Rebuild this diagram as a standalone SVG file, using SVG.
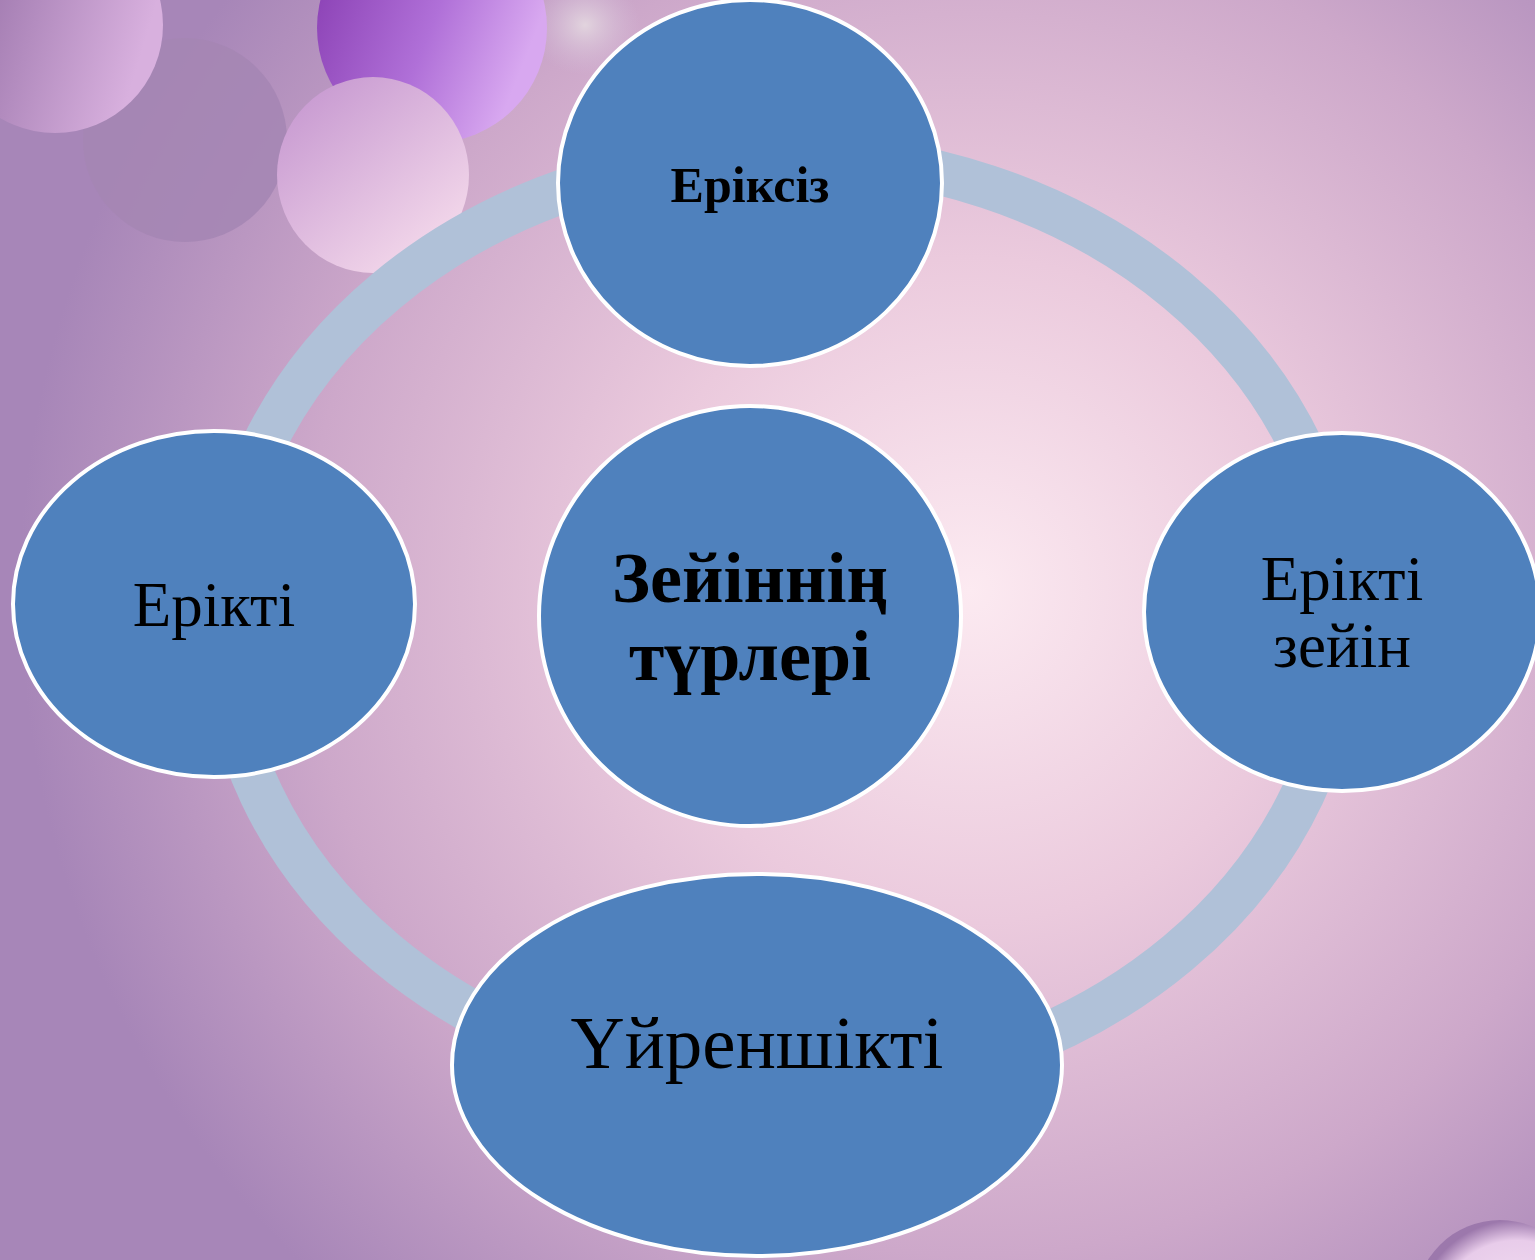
<svg xmlns="http://www.w3.org/2000/svg" width="1535" height="1260" viewBox="0 0 1535 1260">
<defs>
<radialGradient id="bg" gradientUnits="userSpaceOnUse" cx="970" cy="590" r="950">
<stop offset="0" stop-color="#FCEAF1"/>
<stop offset="0.35" stop-color="#EBCADD"/>
<stop offset="0.7" stop-color="#CDA8CA"/>
<stop offset="1" stop-color="#A786B8"/>
</radialGradient>
<linearGradient id="b1" x1="0" y1="0" x2="1" y2="0.3">
<stop offset="0" stop-color="#8E68A0"/>
<stop offset="1" stop-color="#D8B0DE"/>
</linearGradient>
<linearGradient id="b3" x1="0" y1="0" x2="1" y2="0.4">
<stop offset="0" stop-color="#8438AE"/>
<stop offset="0.6" stop-color="#B070D8"/>
<stop offset="1" stop-color="#D8A8F0"/>
</linearGradient>
<linearGradient id="b4" x1="0" y1="0" x2="0.8" y2="1">
<stop offset="0" stop-color="#C292CE"/>
<stop offset="1" stop-color="#F6DCEC"/>
</linearGradient>
<radialGradient id="b5" cx="0.5" cy="0.5" r="0.5">
<stop offset="0" stop-color="#E2D4DE"/>
<stop offset="1" stop-color="#D4BCD8" stop-opacity="0"/>
</radialGradient>
<radialGradient id="b6" cx="0.6" cy="0.6" r="0.6">
<stop offset="0" stop-color="#F6E4F4"/>
<stop offset="0.8" stop-color="#E8CCEA"/>
<stop offset="1" stop-color="#9C78AC"/>
</radialGradient>
<style>
.node{fill:#4F81BD;stroke:#FFFFFF;stroke-width:4}
.lbl{font-family:"Liberation Serif","Times New Roman",serif;fill:#000000;text-anchor:middle}
.b{font-weight:bold}
</style>
</defs>
<rect width="1535" height="1260" fill="url(#bg)"/>
<g id="decor">
<circle cx="185" cy="140" r="102" fill="#A586B4" opacity="0.9"/>
<circle cx="55" cy="25" r="108" fill="url(#b1)"/>
<ellipse cx="585" cy="25" rx="55" ry="50" fill="url(#b5)"/>
<circle cx="432" cy="28" r="115" fill="url(#b3)"/>
<ellipse cx="373" cy="175" rx="96" ry="98" fill="url(#b4)"/>
<circle cx="1500" cy="1305" r="85" fill="url(#b6)"/>
</g>
<g id="connectors">
<ellipse cx="782" cy="622" rx="560" ry="468" fill="none" stroke="#B0C1D8" stroke-width="44"/>
</g>
<g id="node-top">
<ellipse class="node" cx="750" cy="183" rx="192" ry="183"/>
<text class="lbl b" x="750" y="202" font-size="50">Еріксіз</text>
</g>
<g id="node-center">
<ellipse class="node" cx="750" cy="616" rx="211" ry="210"/>
<text class="lbl b" x="750" y="602" font-size="72">Зейіннің</text>
<text class="lbl b" x="750" y="680" font-size="72">түрлері</text>
</g>
<g id="node-left">
<ellipse class="node" cx="214" cy="604" rx="201" ry="173"/>
<text class="lbl" x="214" y="626" font-size="63">Ерікті</text>
</g>
<g id="node-right">
<ellipse class="node" cx="1342" cy="612" rx="198" ry="179"/>
<text class="lbl" x="1342" y="600" font-size="63">Ерікті</text>
<text class="lbl" x="1342" y="667" font-size="63">зейін</text>
</g>
<g id="node-bottom">
<ellipse class="node" cx="757" cy="1065" rx="305" ry="191"/>
<text class="lbl" x="757" y="1068" font-size="75">Үйреншікті</text>
</g>
</svg>
